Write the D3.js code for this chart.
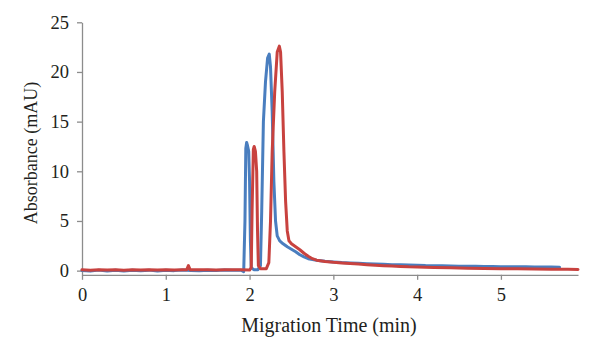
<!DOCTYPE html>
<html>
<head>
<meta charset="utf-8">
<script src="https://cdn.jsdelivr.net/npm/d3@7"></script>
<style>
  html, body { margin: 0; padding: 0; background: #fff; }
  svg { display: block; }
</style>
</head>
<body>
<svg id="chart" width="600" height="358"></svg>
<script>
// ---- Data ----
const xTicks = [0, 1, 2, 3, 4, 5];
const yTicks = [0, 5, 10, 15, 20, 25];
const xLabel = "Migration Time (min)";
const yLabel = "Absorbance (mAU)";

const blueTime = [0.00,0.10,0.20,0.30,0.40,0.50,0.60,0.70,0.80,0.90,1.00,1.10,1.20,1.30,1.40,1.50,1.60,1.70,1.80,1.90,1.93,
  1.945,1.955,1.965,1.975,1.99,2.00,2.01,2.02,2.05,2.10,2.13,2.145,2.165,2.19,2.215,2.235,2.25,2.27,2.29,2.31,2.33,2.36,2.40,2.45,
  2.50,2.55,2.60,2.65,2.70,2.80,2.90,3.00,3.10,3.20,3.30,3.40,3.50,3.60,3.70,3.80,3.90,4.00,4.10,4.20,4.30,4.40,4.50,4.60,4.70,
  4.80,4.90,5.00,5.10,5.20,5.30,5.40,5.50,5.60,5.70];
const blueAbs = [0.02,-0.05,0.05,-0.03,0.04,-0.04,0.03,-0.02,0.05,-0.03,0.04,0.00,0.06,0.02,-0.02,0.05,0.01,0.06,0.03,0.04,-0.10,
  5.0,12.3,12.9,12.6,12.0,9.0,3.0,0.3,0.1,0.1,0.5,6.0,15.0,19.0,21.4,21.8,20.5,16.0,9.0,5.0,3.5,3.0,2.7,2.4,
  2.15,1.9,1.6,1.38,1.2,1.05,0.95,0.88,0.82,0.78,0.74,0.70,0.66,0.63,0.60,0.58,0.56,0.55,0.51,0.49,0.48,0.46,0.45,0.44,0.43,
  0.42,0.41,0.40,0.39,0.38,0.38,0.37,0.36,0.37,0.35];

const redTime = [0.00,0.10,0.20,0.30,0.40,0.50,0.60,0.70,0.80,0.90,1.00,1.10,1.20,1.25,1.27,1.29,1.40,1.50,1.60,1.70,1.80,1.90,2.00,
  2.02,2.03,2.045,2.055,2.07,2.085,2.095,2.105,2.13,2.20,2.23,2.25,2.27,2.30,2.33,2.355,2.37,2.39,2.41,2.43,2.45,2.47,2.50,
  2.55,2.60,2.65,2.70,2.75,2.80,2.90,3.00,3.10,3.20,3.30,3.40,3.50,3.60,3.70,3.80,3.90,4.00,4.20,4.40,4.60,4.80,5.00,5.20,
  5.40,5.60,5.80,5.92];
const redAbs = [0.08,0.05,0.09,0.06,0.10,0.05,0.08,0.07,0.10,0.06,0.09,0.07,0.10,0.10,0.50,0.10,0.08,0.10,0.07,0.09,0.08,0.10,0.06,
  0.3,6.0,12.2,12.5,12.0,10.0,4.0,0.5,0.2,0.2,0.8,5.0,12.0,18.0,22.0,22.6,22.0,18.0,12.0,7.0,4.0,3.0,2.7,
  2.4,2.1,1.75,1.45,1.2,1.05,0.92,0.84,0.78,0.72,0.66,0.60,0.55,0.50,0.46,0.42,0.38,0.36,0.32,0.28,0.25,0.22,0.20,0.18,
  0.16,0.15,0.13,0.12];

const series = [
  { name: "blue", color: "#4a7ebf", t: blueTime, v: blueAbs },
  { name: "red", color: "#c8423f", t: redTime, v: redAbs }
];

// ---- Layout ----
const svg = d3.select("#chart");
const x = d3.scaleLinear().domain([0, 5.92]).range([82, 578]);
const y = d3.scaleLinear().domain([-0.42, 25]).range([274.8, 22.3]);
const font = "'Liberation Serif', 'Times New Roman', serif";
const axisColor = "#8c8c8c";
const textColor = "#231f20";

// Y axis
const yAxis = svg.append("g")
  .attr("transform", `translate(${x(0)},0)`)
  .call(d3.axisLeft(y).tickValues(yTicks).tickFormat(d3.format("d"))
    .tickSize(5).tickSizeOuter(0).tickPadding(8));
// X axis
const xAxis = svg.append("g")
  .attr("transform", `translate(0,${y(-0.42)})`)
  .call(d3.axisBottom(x).tickValues(xTicks).tickFormat(d3.format("d"))
    .tickSize(5).tickSizeOuter(0).tickPadding(8));

[yAxis, xAxis].forEach(g => {
  g.select(".domain").attr("stroke", axisColor).attr("stroke-width", 1.3);
  g.selectAll(".tick line").attr("stroke", axisColor).attr("stroke-width", 1.3);
  g.selectAll(".tick text").attr("fill", textColor)
    .style("font-family", font).style("font-size", "18.5px");
});

// Lines
const line = d3.line().x(d => x(d[0])).y(d => y(d[1])).curve(d3.curveLinear);
series.forEach(s => {
  const pts = s.t.map((t, i) => [t, s.v[i]]);
  svg.append("path")
    .datum(pts)
    .attr("fill", "none")
    .attr("stroke", s.color)
    .attr("stroke-width", 3)
    .attr("stroke-linejoin", "round")
    .attr("stroke-linecap", "round")
    .attr("d", line);
});

// Axis titles
svg.append("text")
  .attr("x", 329).attr("y", 332)
  .attr("text-anchor", "middle")
  .attr("fill", textColor)
  .style("font-family", font).style("font-size", "20px")
  .text(xLabel);

svg.append("text")
  .attr("transform", "translate(37,153) rotate(-90)")
  .attr("text-anchor", "middle")
  .attr("fill", textColor)
  .style("font-family", font).style("font-size", "18px")
  .text(yLabel);
</script>
</body>
</html>
